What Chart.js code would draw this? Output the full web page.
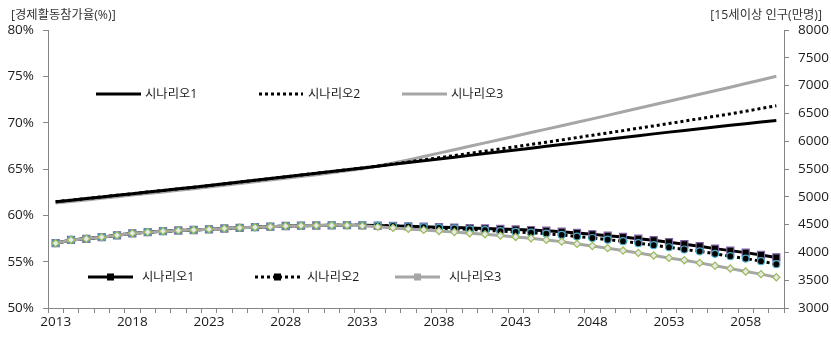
<!DOCTYPE html>
<html>
<head>
<meta charset="utf-8">
<script src="https://cdn.jsdelivr.net/npm/chart.js@4.4.1/dist/chart.umd.min.js"></script>
<style>
  html, body { margin: 0; padding: 0; background: #ffffff; }
  #wrap { width: 831px; height: 341px; position: relative; }
</style>
</head>
<body>
<div id="wrap"><canvas id="c" width="831" height="341"></canvas></div>
<script>
// Years on the category axis
const years = [
  2013, 2014, 2015, 2016, 2017, 2018, 2019, 2020, 2021, 2022,
  2023, 2024, 2025, 2026, 2027, 2028, 2029, 2030, 2031, 2032,
  2033, 2034, 2035, 2036, 2037, 2038, 2039, 2040, 2041, 2042,
  2043, 2044, 2045, 2046, 2047, 2048, 2049, 2050, 2051, 2052,
  2053, 2054, 2055, 2056, 2057, 2058, 2059, 2060
];

// 경제활동참가율 (%) — left axis
const rateS1 = [
  61.47, 61.64, 61.81, 61.99, 62.16, 62.33, 62.51, 62.68, 62.86, 63.03,
  63.21, 63.40, 63.59, 63.78, 63.97, 64.16, 64.35, 64.54, 64.73, 64.92,
  65.11, 65.30, 65.50, 65.69, 65.89, 66.08, 66.28, 66.47, 66.67, 66.86,
  67.06, 67.25, 67.45, 67.64, 67.84, 68.03, 68.22, 68.41, 68.60, 68.79,
  68.98, 69.16, 69.35, 69.53, 69.71, 69.89, 70.07, 70.24
];
const rateS2 = [
  61.47, 61.64, 61.81, 61.99, 62.16, 62.33, 62.51, 62.68, 62.86, 63.03,
  63.21, 63.40, 63.59, 63.78, 63.97, 64.16, 64.35, 64.54, 64.73, 64.92,
  65.11, 65.32, 65.54, 65.76, 65.99, 66.22, 66.45, 66.69, 66.93, 67.17,
  67.41, 67.65, 67.89, 68.14, 68.39, 68.64, 68.89, 69.14, 69.40, 69.65,
  69.91, 70.17, 70.43, 70.69, 70.95, 71.24, 71.53, 71.83
];
const rateS3 = [
  61.32, 61.49, 61.66, 61.84, 62.01, 62.18, 62.36, 62.53, 62.71, 62.88,
  63.06, 63.25, 63.44, 63.63, 63.82, 64.01, 64.20, 64.39, 64.59, 64.80,
  65.03, 65.32, 65.64, 65.98, 66.34, 66.71, 67.08, 67.45, 67.82, 68.19,
  68.56, 68.93, 69.30, 69.67, 70.04, 70.41, 70.79, 71.17, 71.55, 71.93,
  72.31, 72.69, 73.07, 73.45, 73.83, 74.22, 74.61, 75.00
];

// 15세이상 인구 (만명) — right axis
const popS1 = [
  4165, 4224, 4245, 4274, 4308, 4344, 4364, 4382, 4394, 4403,
  4416, 4430, 4443, 4453, 4462, 4475, 4480, 4484, 4487, 4489,
  4487, 4482, 4476, 4469, 4462, 4454, 4446, 4438, 4430, 4421,
  4412, 4402, 4390, 4372, 4349, 4326, 4301, 4278, 4247, 4219,
  4183, 4147, 4111, 4068, 4032, 3996, 3955, 3910
];
const popS2 = [
  4165, 4224, 4245, 4274, 4308, 4344, 4364, 4382, 4394, 4403,
  4416, 4430, 4443, 4453, 4462, 4475, 4480, 4484, 4487, 4489,
  4487, 4482, 4475, 4466, 4455, 4440, 4426, 4413, 4399, 4384,
  4369, 4354, 4338, 4314, 4285, 4259, 4229, 4201, 4166, 4130,
  4093, 4052, 4020, 3975, 3932, 3889, 3842, 3788
];
const popS3 = [
  4165, 4224, 4245, 4274, 4308, 4344, 4364, 4382, 4394, 4403,
  4416, 4430, 4443, 4453, 4462, 4475, 4480, 4484, 4487, 4489,
  4478, 4460, 4441, 4423, 4405, 4386, 4367, 4345, 4326, 4302,
  4278, 4254, 4225, 4194, 4153, 4116, 4076, 4033, 3991, 3944,
  3901, 3860, 3812, 3759, 3711, 3657, 3609, 3553
];

const seriesNames = ['시나리오1', '시나리오2', '시나리오3'];
const leftTitle = '[경제활동참가율(%)]';
const rightTitle = '[15세이상 인구(만명)]';

const FONT = "'Open Sans', 'Noto Sans CJK KR', sans-serif";
const AXIS_GRAY = '#868686';
const TEXT = '#1a1a1a';
const LINE_GRAY = '#a6a6a6';
const DOT = [3, 3];
const SMALL_FONT = `12.3px ${FONT}`;

// Legend layout: line start/end and text start (canvas px)
const topLegend = [
  { x0: 96,  x1: 141, tx: 145, color: '#000000', dash: [] },
  { x0: 259, x1: 303, tx: 308, color: '#000000', dash: DOT },
  { x0: 402, x1: 447, tx: 451, color: LINE_GRAY, dash: [] }
];
const bottomLegend = [
  { x0: 88,  x1: 133, tx: 142, color: '#000000', dash: [] },
  { x0: 255, x1: 300, tx: 307, color: '#000000', dash: DOT },
  { x0: 395, x1: 440, tx: 449, color: LINE_GRAY, dash: [] }
];

const legendPlugin = {
  id: 'inlineLegends',
  afterDraw(chart) {
    const ctx = chart.ctx;
    ctx.save();
    ctx.font = SMALL_FONT;
    ctx.fillStyle = '#333333';
    ctx.textBaseline = 'middle';
    ctx.textAlign = 'left';
    ctx.fillText(leftTitle, 11, 15);
    ctx.textAlign = 'right';
    ctx.fillText(rightTitle, 822, 15);

    const drawItem = (it, y, name, marker) => {
      ctx.save();
      ctx.strokeStyle = it.color;
      ctx.lineWidth = 3;
      ctx.lineCap = 'butt';
      ctx.setLineDash(it.dash);
      ctx.beginPath();
      ctx.moveTo(it.x0, y);
      ctx.lineTo(it.x1, y);
      ctx.stroke();
      ctx.restore();
      if (marker) {
        const cx = (it.x0 + it.x1) / 2;
        ctx.fillStyle = it.color;
        ctx.fillRect(cx - 3.5, y - 3.5, 7, 7);
      }
      ctx.fillStyle = TEXT;
      ctx.textAlign = 'left';
      ctx.textBaseline = 'middle';
      ctx.font = SMALL_FONT;
      ctx.fillText(name, it.tx, y);
    };
    topLegend.forEach((it, i) => drawItem(it, 94, seriesNames[i], false));
    bottomLegend.forEach((it, i) => drawItem(it, 277, seriesNames[i], true));
    ctx.restore();
  }
};

const tickFont = { family: FONT, size: 13.5 };

new Chart(document.getElementById('c'), {
  type: 'line',
  data: {
    labels: years,
    datasets: [
      { label: seriesNames[2], data: popS3, yAxisID: 'y1', order: 0,
        borderColor: LINE_GRAY, borderWidth: 3, pointStyle: 'rectRot', pointRadius: 3.6,
        pointBackgroundColor: '#e8e8e8', pointBorderColor: '#9bbb59', pointBorderWidth: 1.2 },
      { label: seriesNames[1], data: popS2, yAxisID: 'y1', order: 1,
        borderColor: '#000000', borderWidth: 3, borderDash: DOT, pointStyle: 'circle', pointRadius: 3.5,
        pointBackgroundColor: '#000000', pointBorderColor: '#4bacc6', pointBorderWidth: 1.2 },
      { label: seriesNames[0], data: popS1, yAxisID: 'y1', order: 2,
        borderColor: '#000000', borderWidth: 3, pointStyle: 'rect', pointRadius: 5,
        pointBackgroundColor: '#000000', pointBorderColor: '#8064a2', pointBorderWidth: 1.2 },
      { label: seriesNames[0], data: rateS1, yAxisID: 'y', order: 3,
        borderColor: '#000000', borderWidth: 3, pointRadius: 0 },
      { label: seriesNames[1], data: rateS2, yAxisID: 'y', order: 4,
        borderColor: '#000000', borderWidth: 3, borderDash: DOT, pointRadius: 0 },
      { label: seriesNames[2], data: rateS3, yAxisID: 'y', order: 5,
        borderColor: LINE_GRAY, borderWidth: 3, pointRadius: 0 }
    ]
  },
  options: {
    responsive: false,
    animation: false,
    devicePixelRatio: 1,
    layout: { padding: { top: 30, left: 0, right: 0, bottom: 0 } },
    plugins: { legend: { display: false }, tooltip: { enabled: false } },
    elements: { line: { tension: 0 } },
    scales: {
      x: {
        offset: true,
        grid: { display: true, offset: true, drawOnChartArea: false, drawTicks: true, tickLength: 5, color: AXIS_GRAY },
        border: { display: true, color: AXIS_GRAY, width: 1 },
        ticks: {
          autoSkip: false, maxRotation: 0, padding: 1, color: TEXT, font: tickFont,
          callback: (v, i) => (i % 5 === 0 ? String(years[i]) : '')
        },
        afterFit(s) { s.height = 33; }
      },
      y: {
        position: 'left', min: 50, max: 80,
        grid: { drawOnChartArea: false, drawTicks: true, tickLength: 5, color: AXIS_GRAY },
        border: { display: true, color: AXIS_GRAY, width: 1 },
        ticks: { stepSize: 5, padding: 9, color: TEXT, font: tickFont, callback: v => v + '%' },
        afterFit(s) { s.width = 48; }
      },
      y1: {
        position: 'right', min: 3000, max: 8000,
        grid: { drawOnChartArea: false, drawTicks: true, tickLength: 5, color: AXIS_GRAY },
        border: { display: true, color: AXIS_GRAY, width: 1 },
        ticks: { stepSize: 500, padding: 9, color: TEXT, font: tickFont, callback: v => String(v) },
        afterFit(s) { s.width = 47; }
      }
    }
  },
  plugins: [legendPlugin]
});
</script>
</body>
</html>
